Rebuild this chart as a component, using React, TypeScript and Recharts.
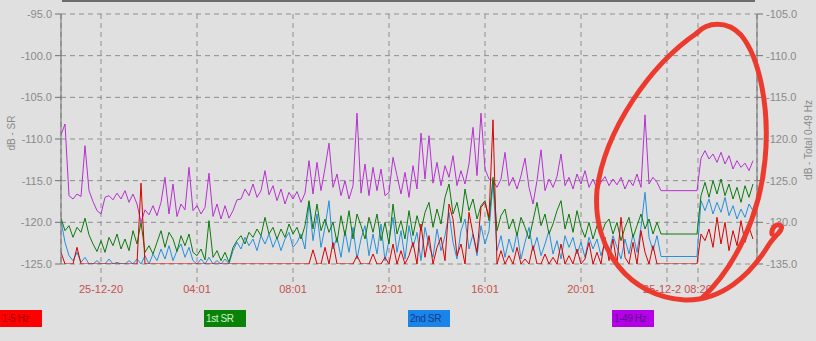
import { LineChart, Line, XAxis, YAxis, CartesianGrid } from 'recharts'

// sample index -> one sample every ~4px of the time axis
const red15Hz = [
  -123.6, -125, -125, -125, -123.0, -125, -125, -125, -125, -125,
  -125, -125, -125, -125, -125, -125, -125, -125, -125, -125,
  -115.3, -125, -125, -125, -125, -125, -125, -125, -125, -125,
  -125, -125, -125, -125, -125, -125, -125, -125, -125, -125,
  -125, -125, -125, -125, -125, -125, -125, -125, -125, -125,
  -125, -125, -125, -125, -125, -125, -125, -125, -125, -125,
  -125, -125, -125, -123.3, -125, -125, -123.0, -125, -122.4, -125,
  -125, -125, -125, -125, -124.0, -125, -125, -125, -123.8, -125,
  -125, -124.2, -125, -122.6, -125, -123.4, -125, -124.0, -122.4, -125,
  -120.2, -124.2, -121.6, -125, -123.0, -121.8, -124.6, -117.8, -119.6, -124.0,
  -122.6, -125, -118.8, -121.4, -123.6, -118.2, -117.6, -119.4, -107.7, -125,
  -123.4, -125, -124.0, -125, -123.0, -125, -124.4, -125, -122.8, -125,
  -125, -123.8, -125, -124.2, -125, -122.6, -125, -124.0, -125, -123.2,
  -125, -124.4, -122.4, -125, -123.6, -125, -121.8, -124.6, -122.0, -125,
  -119.4, -124.2, -125, -122.4, -125, -121.0, -123.6, -125, -122.8, -125,
  -125, -125, -125, -125, -125, -125, -125, -125, -125, -125,
  -121.4, -122.2, -120.8, -123.0, -119.4, -122.6, -120.0, -123.4, -121.0, -122.8,
  -119.8, -122.4, -120.6, -122.0,
]

const firstSR = [
  -119.5, -121.0, -120.4, -121.8, -120.6, -121.2, -119.5, -121.5, -122.6, -123.5,
  -122.2, -123.6, -121.8, -122.8, -121.4, -123.2, -122.0, -123.4, -121.0, -122.6,
  -120.0, -123.6, -122.8, -123.8, -122.4, -121.0, -123.0, -121.2, -122.0, -123.5,
  -121.6, -122.8, -121.4, -123.6, -124.0, -123.2, -124.5, -119.8, -124.2, -123.4,
  -124.6, -123.6, -124.8, -123.0, -122.2, -121.6, -122.6, -121.2, -121.8, -120.8,
  -121.6, -119.4, -121.4, -120.6, -122.0, -120.8, -121.8, -120.2, -121.4, -120.6,
  -122.0, -120.4, -117.4, -120.8, -117.8, -121.0, -119.6, -121.2, -120.0, -122.4,
  -119.2, -121.6, -118.6, -122.0, -119.0, -120.4, -122.0, -119.4, -121.2, -119.0,
  -122.2, -120.0, -122.6, -117.8, -121.4, -119.8, -122.0, -118.6, -121.6, -119.2,
  -121.0, -118.8, -117.6, -120.6, -118.4, -120.2, -117.0, -115.4, -119.0, -117.6,
  -120.0, -116.0, -118.6, -117.2, -119.6, -118.0, -117.4, -119.8, -114.6, -121.0,
  -119.2, -118.4, -120.8, -119.6, -121.6, -119.4, -120.6, -122.0, -119.8, -117.6,
  -120.4, -119.0, -121.4, -120.2, -118.6, -117.4, -120.8, -119.0, -121.2, -118.6,
  -120.6, -121.8, -120.0, -122.0, -120.4, -121.6, -120.2, -119.6, -121.4, -120.0,
  -122.2, -120.6, -119.4, -121.8, -120.4, -119.0, -120.8, -119.6, -121.4, -120.0,
  -121.4, -121.4, -121.4, -121.4, -121.4, -121.4, -121.4, -121.4, -121.4, -121.4,
  -116.8, -115.2, -117.0, -115.0, -116.6, -114.8, -116.8, -115.4, -117.2, -115.8,
  -117.6, -115.6, -117.0, -115.4,
]

const secondSR = [
  -119.8, -122.4, -124.0, -124.6, -123.6, -124.8, -124.2, -125.0, -125.0, -124.6,
  -125.0, -125.0, -124.4, -125.0, -124.8, -125.0, -125.0, -124.6, -125.0, -124.4,
  -125.0, -124.0, -125.0, -123.8, -124.6, -123.2, -124.4, -122.8, -124.6, -123.4,
  -122.6, -124.2, -123.0, -124.6, -125.0, -124.4, -125.0, -124.2, -125.0, -124.6,
  -125.0, -124.4, -125.0, -123.4, -122.4, -123.2, -121.8, -122.8, -122.0, -123.4,
  -121.6, -122.6, -121.4, -123.0, -121.8, -123.4, -122.0, -121.2, -123.0, -122.4,
  -121.4, -123.2, -117.6, -122.2, -119.0, -123.0, -120.6, -117.4, -123.2, -121.8,
  -124.2, -121.0, -123.6, -120.6, -124.4, -122.0, -120.4, -124.0, -121.4, -123.8,
  -120.2, -124.6, -122.2, -119.4, -123.6, -121.0, -124.4, -120.4, -123.0, -121.2,
  -124.6, -120.6, -122.8, -124.2, -120.8, -123.4, -121.6, -118.8, -122.4, -124.4,
  -121.0, -119.6, -123.2, -121.4, -124.0, -120.4, -122.6, -121.0, -115.2, -123.4,
  -121.6, -124.2, -122.0, -123.6, -121.2, -124.4, -122.4, -120.6, -123.4, -121.8,
  -124.0, -122.6, -121.0, -123.8, -122.2, -124.4, -121.6, -123.0, -121.8, -123.8,
  -122.4, -124.2, -121.8, -123.2, -122.0, -124.0, -122.4, -123.6, -121.6, -123.0,
  -124.4, -122.0, -123.8, -121.4, -123.6, -120.6, -116.4, -121.8, -123.4, -121.6,
  -124.1, -124.1, -124.1, -124.1, -124.1, -124.1, -124.1, -124.1, -124.1, -124.1,
  -117.4, -118.6, -117.2, -119.0, -117.6, -118.8, -117.0, -119.2, -118.0, -119.6,
  -118.4, -119.4, -117.8, -118.6,
]

// 1-49 Hz total, read against the right axis
const total049 = [
  -119.5, -118.2, -126.8, -127.2, -126.6, -126.9, -120.8, -126.2, -127.5, -128.6,
  -129.0, -127.0, -126.8, -127.3, -126.5, -127.2, -126.2, -127.6, -126.6, -127.8,
  -130.0, -128.5, -129.1, -128.0, -129.2, -127.6, -124.6, -129.0, -125.4, -129.3,
  -127.8, -128.5, -123.4, -128.6, -128.0, -129.0, -128.2, -124.1, -129.3, -127.8,
  -129.6, -128.0, -129.5, -128.6, -127.3, -127.2, -126.0, -126.8, -125.4, -127.0,
  -126.2, -123.8, -126.7, -125.6, -127.4, -126.0, -127.8, -126.4, -127.2, -126.3,
  -127.6, -126.5, -122.6, -126.6, -122.8, -126.2, -123.5, -120.5, -125.8, -124.2,
  -126.8, -125.0, -127.2, -125.6, -116.9, -126.5, -123.0, -126.8, -123.4, -126.2,
  -123.6, -126.8, -126.4, -122.2, -124.4, -126.6, -124.0, -127.0, -123.2, -126.0,
  -119.3, -124.8, -119.6, -125.3, -122.8, -125.6, -123.2, -124.6, -122.0, -125.6,
  -123.8, -125.4, -123.0, -118.6, -124.4, -116.9, -123.6, -124.8, -125.0, -125.8,
  -124.8, -121.6, -125.6, -124.6, -126.0, -124.4, -122.3, -125.8, -127.8, -125.0,
  -121.3, -126.2, -124.8, -125.8, -124.5, -121.8, -125.6, -124.6, -126.0, -124.2,
  -125.4, -123.8, -125.8, -124.8, -126.0, -125.2, -124.5, -125.6, -124.8, -125.5,
  -124.6, -126.0, -124.9, -125.6, -124.2, -125.8, -117.1, -125.4, -124.6, -125.2,
  -126.2, -126.2, -126.2, -126.2, -126.2, -126.2, -126.2, -126.2, -126.2, -126.2,
  -122.3, -121.4, -122.4, -121.8, -122.8, -121.6, -123.0, -122.0, -123.6, -122.6,
  -123.4, -122.9, -123.8, -122.6,
]

const xTicks = [10, 34, 58, 82, 106, 130, 151.5, 159.25]
const xLabels = ['25-12-20', '04:01', '08:01', '12:01', '16:01', '20:01', '25-12-2', '08:20']
const leftTicks = [-125, -120, -115, -110, -105, -100, -95]
const rightTicks = [-135, -130, -125, -120, -115, -110, -105]

const legend = [
  { name: '1-5 Hz', bg: '#ff0000', fg: '#a00000', left: 0 },
  { name: '1st SR', bg: '#0a820a', fg: '#c8f5c8', left: 204 },
  { name: '2nd SR', bg: '#1a84e8', fg: '#123c8c', left: 408 },
  { name: '1-49 Hz', bg: '#b400e6', fg: '#5a1090', left: 612 },
]

const data = total049.map((_, i) => ({
  i,
  red: red15Hz[i],
  sr1: firstSR[i],
  sr2: secondSR[i],
  total: total049[i],
}))

const FONT = '"Liberation Sans", Arial, sans-serif'

function TimeTick(props: any) {
  const { x, y, payload } = props
  const idx = xTicks.indexOf(payload.value)
  const label = xLabels[idx] ?? ''
  const shifted = label === '25-12-2'
  return (
    <text
      x={shifted ? x + 14 : x}
      y={y}
      dy="0.71em"
      textAnchor={shifted ? 'end' : 'middle'}
      fill="#c4524f"
      fontSize={11}
      fontFamily={FONT}
    >
      {label}
    </text>
  )
}

export default function App() {
  return (
    <div style={{ position: 'absolute', left: 0, top: 0, width: 816, height: 341, background: '#e0e0e0', overflow: 'hidden', fontFamily: FONT }}>
      <div style={{ position: 'absolute', left: 62, top: 0, width: 693, height: 2, background: '#6c6c6c' }} />
      <LineChart width={816} height={341} data={data} margin={{ top: 14, right: 0, bottom: 47, left: 0 }}>
        <CartesianGrid yAxisId="left" stroke="#8e8e8e" strokeDasharray="5 4" />
        <XAxis
          dataKey="i"
          type="number"
          domain={[0, 174]}
          ticks={xTicks}
          interval={0}
          height={30}
          axisLine={false}
          tickSize={18}
          tickMargin={3}
          tickLine={{ stroke: '#8e8e8e', strokeDasharray: '5 4' }}
          tick={<TimeTick />}
          allowDataOverflow
        />
        <YAxis
          yAxisId="left"
          domain={[-125, -95]}
          ticks={leftTicks}
          width={61}
          tickSize={6}
          tickMargin={3}
          allowDataOverflow
          axisLine={{ stroke: '#707070' }}
          tickLine={{ stroke: '#707070' }}
          tick={{ fill: '#8a8a8a', fontSize: 11, fontFamily: FONT }}
          tickFormatter={(v: number) => v.toFixed(1)}
        />
        <YAxis
          yAxisId="right"
          orientation="right"
          domain={[-135, -105]}
          ticks={rightTicks}
          width={59}
          tickSize={6}
          tickMargin={3}
          allowDataOverflow
          axisLine={{ stroke: '#707070' }}
          tickLine={{ stroke: '#707070' }}
          tick={{ fill: '#8a8a8a', fontSize: 11, fontFamily: FONT }}
          tickFormatter={(v: number) => v.toFixed(1)}
        />
        <Line yAxisId="right" dataKey="total" type="linear" stroke="#b82fd0" strokeWidth={1} dot={false} isAnimationActive={false} />
        <Line yAxisId="left" dataKey="sr2" type="linear" stroke="#2590dc" strokeWidth={1} dot={false} isAnimationActive={false} />
        <Line yAxisId="left" dataKey="sr1" type="linear" stroke="#0c7a0c" strokeWidth={1} dot={false} isAnimationActive={false} />
        <Line yAxisId="left" dataKey="red" type="linear" stroke="#d80000" strokeWidth={1} dot={false} isAnimationActive={false} />
      </LineChart>

      <div style={{ position: 'absolute', left: 11, top: 133, transform: 'translate(-50%, -50%) rotate(-90deg)', whiteSpace: 'nowrap', fontSize: 10, color: '#8a8a8a' }}>
        dB - SR
      </div>
      <div style={{ position: 'absolute', left: 808, top: 140, transform: 'translate(-50%, -50%) rotate(-90deg)', whiteSpace: 'nowrap', fontSize: 10, color: '#8a8a8a' }}>
        dB - Total 0-49 Hz
      </div>

      {legend.map(l => (
        <div
          key={l.name}
          style={{
            position: 'absolute', left: l.left, top: 310, width: 42, height: 17,
            background: l.bg, color: l.fg, fontSize: 10, lineHeight: '17px',
            paddingLeft: 2, boxSizing: 'border-box', letterSpacing: -0.4, whiteSpace: 'nowrap',
          }}
        >
          {l.name}
        </div>
      ))}

      {/* hand-drawn marker around the last hours */}
      <svg width={816} height={341} style={{ position: 'absolute', left: 0, top: 0, pointerEvents: 'none' }}>
        <g fill="none" stroke="#ec3b2e" strokeWidth={5} strokeLinecap="round" strokeLinejoin="round">
          <path d="M 697 33 C 650 65, 605 130, 597 190 C 592 250, 630 297, 685 300 C 722 301, 750 275, 768 246 C 774 236, 784 230, 781 226 C 777 222, 771 228, 772 234" />
          <path d="M 697 33 C 707 22, 727 20, 741 35 C 760 58, 770 110, 765 160 C 760 215, 735 268, 702 298" />
        </g>
      </svg>
    </div>
  )
}
